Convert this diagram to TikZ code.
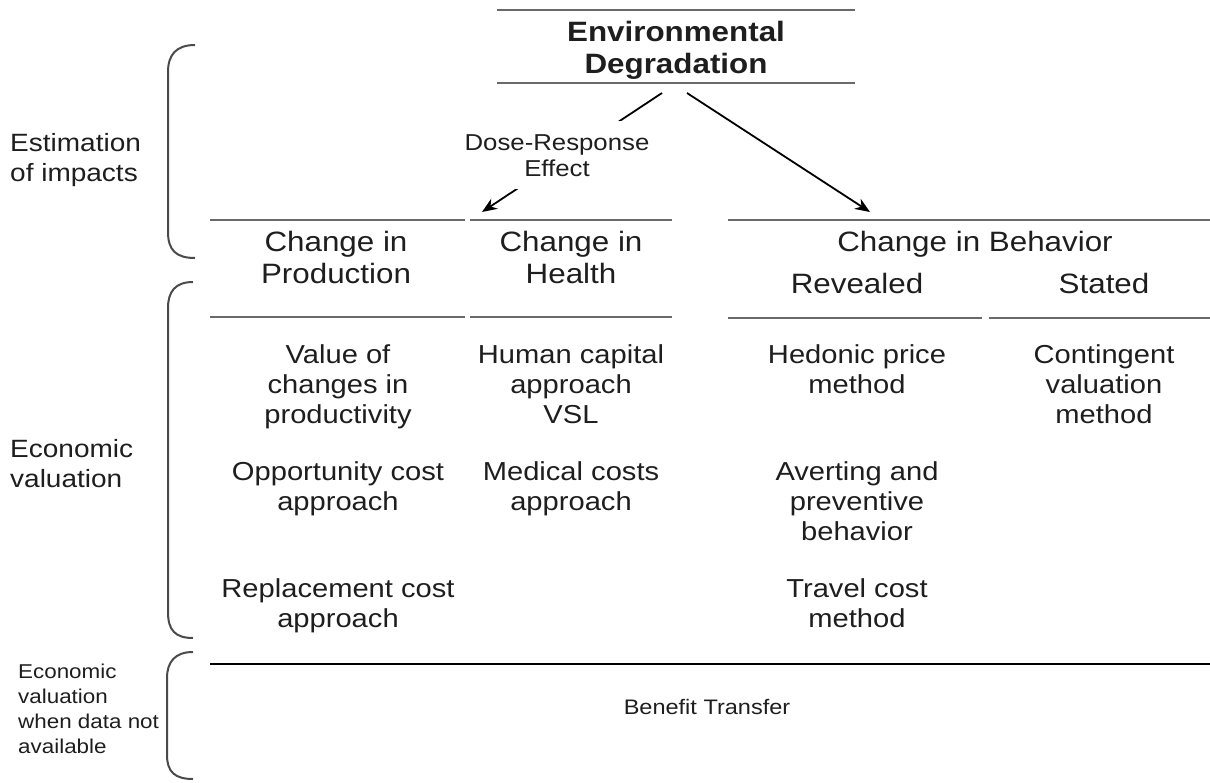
\documentclass[tikz,border=0pt]{standalone}
\usepackage{fontspec}
\setmainfont[FakeStretch=1.12]{Liberation Sans}
\usetikzlibrary{arrows.meta}
\definecolor{tcol}{HTML}{1E1E1E}
\definecolor{lcol}{HTML}{6A6A6A}
\definecolor{bcol}{HTML}{4A4A4A}
\begin{document}
\begin{tikzpicture}[x=1pt,y=-1pt,
  txt/.style={inner sep=0pt, align=center, text=tcol, anchor=base},
  hd/.style={txt, font=\fontsize{28}{32}\selectfont},
  bd/.style={txt, font=\fontsize{26}{30}\selectfont},
  side/.style={txt, align=left, anchor=base west, font=\fontsize{25}{30}\selectfont},
  small/.style={txt, align=left, anchor=base west, font=\fontsize{20}{25}\selectfont},
  rule/.style={draw=lcol, line width=2.5pt},
  brace/.style={draw=bcol, line width=2pt},
  arr/.style={draw=black, line width=1.8pt, -{Stealth[length=15pt,width=12pt]}}]
\useasboundingbox (0,0) rectangle (1210,782);
% title
\draw[rule] (497,10) -- (855,10);
\draw[rule] (497,83) -- (855,83);
\node[hd, font=\fontsize{28}{32}\selectfont\bfseries] (title) at (676,73.5) {Environmental\\Degradation};
\coordinate (tA) at (662,93);
\coordinate (tB) at (687,93);
% header rules
\draw[rule] (210,220) -- (465,220);
\draw[rule] (470,220) -- (672,220);
\draw[rule] (728,220) -- (1210,220);
\draw[rule] (210,317) -- (465,317);
\draw[rule] (470,317) -- (672,317);
\draw[rule] (728,318) -- (982,318);
\draw[rule] (989,318) -- (1210,318);
% headers
\node[hd] (prod) at (336,283.4) {Change in\\Production};
\node[hd] (health) at (571,283.4) {Change in\\Health};
\node[hd] (behav) at (975,251.7) {Change in Behavior};
\node[hd] (rev) at (857,293) {Revealed};
\node[hd] (stat) at (1104,293) {Stated};
\coordinate (hA) at (482,212);
\coordinate (hB) at (870,212);
% arrows
\draw[arr] (tA) -- (hA);
\node[txt, fill=white, inner xsep=2pt, inner ysep=13pt, font=\fontsize{23}{26}\selectfont] (dose) at (557,176) {Dose-Response\\Effect};
\draw[arr] (tB) -- (hB);
% body
\node[bd] (v1) at (338,423) {Value of\\changes in\\productivity};
\node[bd] (v2) at (338,510) {Opportunity cost\\approach};
\node[bd] (v3) at (338,627) {Replacement cost\\approach};
\node[bd] (h1) at (571,423) {Human capital\\approach\\VSL};
\node[bd] (h2) at (571,510) {Medical costs\\approach};
\node[bd] (r1) at (857,393) {Hedonic price\\method};
\node[bd] (r2) at (857,540) {Averting and\\preventive\\behavior};
\node[bd] (r3) at (857,627) {Travel cost\\method};
\node[bd] (s1) at (1104,423) {Contingent\\valuation\\method};
% bottom
\draw[draw=black, line width=1.6pt] (210,664) -- (1210,664);
\node[txt, font=\fontsize{21}{25}\selectfont] (bt) at (707,714) {Benefit Transfer};
% side labels
\node[side] (est) at (10,181.7) {Estimation\\of impacts};
\node[side] (eco) at (10,487) {Economic\\valuation};
\node[small] (eco2) at (18,753) {Economic\\valuation\\when data not\\available};
% braces
\draw[brace] (195,45) .. controls (176,45) and (168,55) .. (168,72) -- (168,232) .. controls (168,250) and (176,258) .. (195,258);
\draw[brace] (193,282) .. controls (175,282) and (168,292) .. (168,308) -- (168,612) .. controls (168,630) and (175,638) .. (193,638);
\draw[brace] (193,652) .. controls (175,652) and (167,662) .. (167,678) -- (167,755) .. controls (167,772) and (175,779) .. (193,779);
\end{tikzpicture}
\end{document}
